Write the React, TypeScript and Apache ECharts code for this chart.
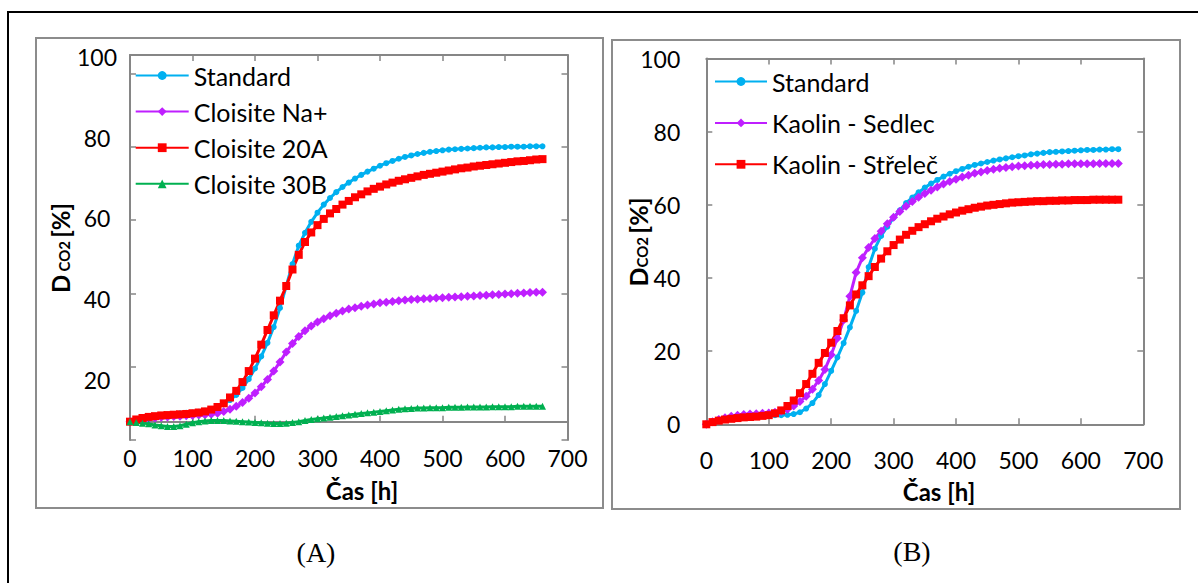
import React, { useEffect, useRef } from "react";
import * as echarts from "echarts";

// time axis (h)
const hours = [0, 10, 20, 30, 40, 50, 60, 70, 80, 90, 100, 110, 120, 130, 140, 150, 160, 170, 180, 190, 200, 210, 220, 230, 240, 250, 260, 270, 280, 290, 300, 310, 320, 330, 340, 350, 360, 370, 380, 390, 400, 410, 420, 430, 440, 450, 460, 470, 480, 490, 500, 510, 520, 530, 540, 550, 560, 570, 580, 590, 600, 610, 620, 630, 640, 650, 660];

// Panel A
const aStandard = [0, 0.5, 0.9, 1.2, 1.5, 1.7, 1.9, 2.1, 2.3, 2.4, 2.5, 2.7, 3.0, 3.4, 4.0, 4.8, 5.9, 7.3, 9.2, 11.6, 14.5, 17.8, 21.5, 25.8, 31, 37, 43, 48, 51.5, 54.5, 57, 59.2, 61, 62.6, 64, 65.2, 66.3, 67.3, 68.2, 69, 69.8, 70.5, 71.1, 71.7, 72.2, 72.6, 73, 73.3, 73.6, 73.8, 74, 74.2, 74.3, 74.4, 74.5, 74.6, 74.7, 74.8, 74.8, 74.9, 74.9, 75, 75, 75, 75.1, 75.1, 75.1];
const aNa = [0, 0.3, 0.6, 0.8, 1.0, 1.2, 1.3, 1.4, 1.5, 1.6, 1.7, 1.8, 1.9, 2.0, 2.3, 2.8, 3.4, 4.2, 5.2, 6.4, 7.8, 9.5, 11.5, 13.8, 16.3, 19, 21.3, 23.2, 24.8, 26.1, 27.2, 28.1, 28.9, 29.6, 30.2, 30.7, 31.1, 31.5, 31.8, 32.1, 32.4, 32.6, 32.8, 33.0, 33.2, 33.3, 33.4, 33.5, 33.6, 33.7, 33.8, 33.9, 34.0, 34.1, 34.2, 34.3, 34.4, 34.5, 34.6, 34.7, 34.8, 34.9, 35.0, 35.1, 35.2, 35.3, 35.3];
const a20A = [0, 0.6, 1.0, 1.3, 1.5, 1.7, 1.8, 1.9, 2.0, 2.1, 2.3, 2.5, 2.8, 3.3, 4.0, 5.0, 6.6, 8.4, 10.8, 13.8, 17.2, 21, 25, 29, 33, 37, 41.5, 45.5, 49, 51.6, 53.6, 55.3, 56.8, 58, 59.2, 60.2, 61.2, 62, 62.8, 63.5, 64.1, 64.7, 65.2, 65.7, 66.1, 66.5, 66.9, 67.3, 67.6, 67.9, 68.2, 68.5, 68.8, 69.1, 69.3, 69.6, 69.8, 70, 70.2, 70.4, 70.6, 70.8, 71, 71.1, 71.3, 71.5, 71.6];
const a30B = [0, -0.2, -0.4, -0.6, -0.9, -1.1, -1.3, -1.3, -1.1, -0.7, -0.3, 0, 0.2, 0.3, 0.3, 0.3, 0.2, 0.1, 0, -0.1, -0.2, -0.3, -0.4, -0.5, -0.5, -0.4, -0.2, 0, 0.3, 0.6, 0.8, 1.0, 1.2, 1.4, 1.6, 1.8, 2.0, 2.2, 2.4, 2.6, 2.8, 3.0, 3.2, 3.4, 3.5, 3.6, 3.7, 3.7, 3.8, 3.8, 3.8, 3.9, 3.9, 3.9, 4.0, 4.0, 4.0, 4.0, 4.1, 4.1, 4.1, 4.1, 4.2, 4.2, 4.2, 4.2, 4.2];

// Panel B
const bStandard = [0, 0.6, 1.1, 1.5, 1.8, 2.0, 2.2, 2.3, 2.4, 2.5, 2.5, 2.5, 2.5, 2.6, 2.8, 3.3, 4.3, 5.8, 8.0, 11.0, 14.6, 18.3, 22.2, 26.5, 31, 36, 43, 48, 51.5, 54, 56.5, 58.5, 60.5, 62, 63.4, 64.7, 65.8, 66.8, 67.7, 68.5, 69.2, 69.8, 70.4, 70.9, 71.3, 71.7, 72.1, 72.4, 72.7, 73, 73.3, 73.5, 73.8, 74, 74.2, 74.4, 74.5, 74.6, 74.7, 74.8, 74.9, 75, 75, 75.1, 75.1, 75.2, 75.2];
const bSedlec = [0, 0.7, 1.3, 1.8, 2.2, 2.5, 2.7, 2.8, 2.9, 3.0, 3.1, 3.3, 3.6, 4.1, 5.0, 6.2, 7.7, 9.6, 12, 15, 19, 23.5, 28.5, 35, 41.5, 45.5, 48.3, 50.8, 52.8, 54.8, 56.6, 58.2, 59.6, 60.9, 62.1, 63.1, 64, 64.9, 65.7, 66.4, 67, 67.6, 68.1, 68.6, 69, 69.4, 69.7, 70, 70.2, 70.4, 70.6, 70.7, 70.8, 70.9, 71, 71, 71.1, 71.1, 71.2, 71.2, 71.2, 71.2, 71.2, 71.3, 71.3, 71.3, 71.3];
const bStrelec = [0, 0.6, 1.0, 1.3, 1.5, 1.7, 1.9, 2.0, 2.1, 2.3, 2.5, 3.0, 3.8, 5.0, 6.5, 8.5, 11, 13.8, 16.8, 19.5, 22.3, 25.5, 29, 32.5, 35.5, 38, 40.5, 43, 45.3, 47.3, 49, 50.5, 51.8, 52.9, 53.9, 54.7, 55.5, 56.2, 56.8, 57.4, 57.9, 58.4, 58.8, 59.2, 59.5, 59.8, 60, 60.2, 60.4, 60.6, 60.7, 60.8, 60.9, 61, 61, 61.1, 61.1, 61.2, 61.2, 61.3, 61.3, 61.3, 61.4, 61.4, 61.4, 61.4, 61.4];

const aLabelValues = [20, 40, 60, 80, 100];
const aTickValues = [-5, 15, 35, 55, 75, 95];
const bLabelValues = [0, 20, 40, 60, 80, 100];

const BLUE = "#00B0F0";
const PURPLE = "#BF1FFF";
const RED = "#FF0000";
const GREEN = "#00B050";
const AXIS = "#868686";
const FONT = "Lato, 'Open Sans', sans-serif";

const pairs = (vals: number[]) => vals.map((v, i) => [hours[i], v]);

export default function App() {
  const ref = useRef<HTMLDivElement>(null);
  useEffect(() => {
    document.body.style.margin = "0";
    const chart = echarts.init(ref.current!, null, { renderer: "svg" });
    const lineAxis = { lineStyle: { color: AXIS, width: 2 } };
    const tickStyle = { lineStyle: { color: AXIS, width: 1.5 } };
    const labelStyle = { color: "#000", fontFamily: FONT, fontSize: 23 };

    const mkSeries = (name: string, data: number[], color: string, symbol: string, size: number, xi: number, yi: number) => ({
      type: "line",
      name,
      data: pairs(data),
      xAxisIndex: xi,
      yAxisIndex: yi,
      symbol,
      symbolSize: size,
      showSymbol: true,
      lineStyle: { color, width: 3 },
      itemStyle: { color, borderWidth: 0 },
      emphasis: { disabled: true },
      z: 3,
    });

    const option: any = {
      animation: false,
      backgroundColor: "#fff",
      grid: [
        { left: 130, top: 55, width: 437.5, height: 385, containLabel: false },
        { left: 706.3, top: 58.5, width: 437, height: 365.8, containLabel: false },
      ],
      xAxis: [
        {
          type: "value", gridIndex: 0, position: "bottom", min: 0, max: 700, interval: 100,
          axisLine: { show: true, onZero: true, onZeroAxisIndex: 0, ...lineAxis },
          axisTick: { show: true, inside: true, length: 6, ...tickStyle },
          axisLabel: { ...labelStyle, margin: 6 },
          splitLine: { show: false },
        },
        {
          type: "value", gridIndex: 0, position: "top", min: 0, max: 700, interval: 100,
          axisLine: { show: true, onZero: false, ...lineAxis },
          axisTick: { show: true, inside: true, length: 6, ...tickStyle },
          axisLabel: { show: false },
          splitLine: { show: false },
        },
        {
          type: "value", gridIndex: 1, position: "bottom", min: 0, max: 700, interval: 100,
          axisLine: { show: true, onZero: false, ...lineAxis },
          axisTick: { show: true, inside: true, length: 6, ...tickStyle },
          axisLabel: { ...labelStyle, margin: 24 },
          splitLine: { show: false },
        },
        {
          type: "value", gridIndex: 1, position: "top", min: 0, max: 700, interval: 100,
          axisLine: { show: true, onZero: false, ...lineAxis },
          axisTick: { show: true, inside: true, length: 6, ...tickStyle },
          axisLabel: { show: false },
          splitLine: { show: false },
        },
      ],
      yAxis: [
        {
          type: "value", gridIndex: 0, position: "left", min: -5, max: 100,
          axisLine: { show: true, onZero: false, ...lineAxis },
          axisTick: { show: true, inside: true, length: 6, customValues: aTickValues, ...tickStyle },
          axisLabel: { show: false },
          splitLine: { show: false },
        },
        {
          type: "value", gridIndex: 0, position: "left", min: 5.1, max: 100.5,
          axisLine: { show: false, onZero: false },
          axisTick: { show: false },
          axisLabel: { ...labelStyle, margin: 33, align: "center", customValues: aLabelValues },
          splitLine: { show: false },
        },
        {
          type: "value", gridIndex: 0, position: "right", min: -5, max: 100,
          axisLine: { show: true, onZero: false, ...lineAxis },
          axisTick: { show: true, inside: true, length: 6, customValues: aTickValues, ...tickStyle },
          axisLabel: { show: false },
          splitLine: { show: false },
        },
        {
          type: "value", gridIndex: 1, position: "left", min: 0, max: 100, interval: 20,
          axisLine: { show: true, onZero: false, ...lineAxis },
          axisTick: { show: true, inside: true, length: 6, ...tickStyle },
          axisLabel: { ...labelStyle, margin: 26, customValues: bLabelValues },
          splitLine: { show: false },
        },
        {
          type: "value", gridIndex: 1, position: "right", min: 0, max: 100, interval: 20,
          axisLine: { show: true, onZero: false, ...lineAxis },
          axisTick: { show: true, inside: true, length: 6, ...tickStyle },
          axisLabel: { show: false },
          splitLine: { show: false },
        },
      ],
      legend: [
        {
          orient: "vertical", left: 134.7, top: 63, padding: 0, itemWidth: 53, itemHeight: 11, itemGap: 11.1,
          textStyle: { color: "#000", fontFamily: FONT, fontSize: 25, lineHeight: 24 },
          data: ["Standard", "Cloisite Na+", "Cloisite 20A", "Cloisite 30B"],
          selectedMode: false,
        },
        {
          orient: "vertical", left: 714, top: 69, padding: 0, itemWidth: 52, itemHeight: 11, itemGap: 16.4,
          textStyle: { color: "#000", fontFamily: FONT, fontSize: 25, lineHeight: 24 },
          data: ["Standard", "Kaolin - Sedlec", "Kaolin - Střeleč"],
          selectedMode: false,
        },
      ],
      series: [
        mkSeries("Standard", aStandard, BLUE, "circle", 6, 0, 0),
        mkSeries("Cloisite Na+", aNa, PURPLE, "diamond", 9, 0, 0),
        mkSeries("Cloisite 20A", a20A, RED, "rect", 8, 0, 0),
        mkSeries("Cloisite 30B", a30B, GREEN, "triangle", 7, 0, 0),
        mkSeries("Standard", bStandard, BLUE, "circle", 6, 2, 3),
        mkSeries("Kaolin - Sedlec", bSedlec, PURPLE, "diamond", 9, 2, 3),
        mkSeries("Kaolin - Střeleč", bStrelec, RED, "rect", 8, 2, 3),
      ],
      graphic: [
        { type: "rect", shape: { x: 8, y: 12, width: 1400, height: 800 }, style: { fill: "none", stroke: "#000", lineWidth: 2 }, silent: true },
        { type: "rect", shape: { x: 36, y: 38, width: 567, height: 470 }, style: { fill: "none", stroke: "#8C8C8C", lineWidth: 2 }, silent: true },
        { type: "rect", shape: { x: 612, y: 40, width: 568, height: 469 }, style: { fill: "none", stroke: "#8C8C8C", lineWidth: 2 }, silent: true },
        {
          type: "text", x: 60, y: 248, rotation: Math.PI / 2,
          style: {
            text: "{d|D} {s|CO2} {d|[%]}", align: "center", verticalAlign: "middle",
            rich: {
              d: { fontFamily: FONT, fontWeight: "bold", fontSize: 24, fill: "#000" },
              s: { fontFamily: FONT, fontWeight: "bold", fontSize: 15, fill: "#000", padding: [8, 0, 0, 0] },
            },
          },
        },
        {
          type: "text", x: 638, y: 242, rotation: Math.PI / 2,
          style: {
            text: "{d|D}{s|CO2} {d|[%]}", align: "center", verticalAlign: "middle",
            rich: {
              d: { fontFamily: FONT, fontWeight: "bold", fontSize: 25, fill: "#000" },
              s: { fontFamily: FONT, fontWeight: "bold", fontSize: 15, fill: "#000", padding: [8, 0, 0, 0] },
            },
          },
        },
        { type: "text", x: 362, y: 490, style: { text: "Čas [h]", fontFamily: FONT, fontWeight: "bold", fontSize: 24, fill: "#000", align: "center", verticalAlign: "middle" } },
        { type: "text", x: 939, y: 491, style: { text: "Čas [h]", fontFamily: FONT, fontWeight: "bold", fontSize: 24, fill: "#000", align: "center", verticalAlign: "middle" } },
        { type: "text", x: 316, y: 552, style: { text: "(A)", fontFamily: "'Liberation Serif', serif", fontSize: 28, fill: "#000", align: "center", verticalAlign: "middle" } },
        { type: "text", x: 912, y: 551, style: { text: "(B)", fontFamily: "'Liberation Serif', serif", fontSize: 28, fill: "#000", align: "center", verticalAlign: "middle" } },
      ],
    };
    chart.setOption(option);
    return () => chart.dispose();
  }, []);
  return <div ref={ref} style={{ position: "absolute", left: 0, top: 0, width: 1198, height: 583 }} />;
}
